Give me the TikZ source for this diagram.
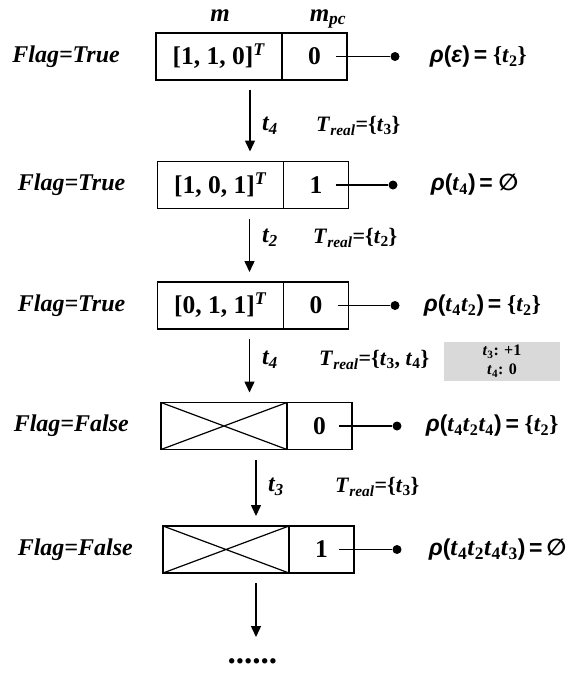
\documentclass[tikz,border=0pt]{standalone}
\usepackage{fontspec}
\setmainfont{Liberation Serif}
\newfontfamily\sansf{Liberation Sans}
\newfontfamily\dejaf{DejaVu Sans}
\usetikzlibrary{arrows.meta,positioning}
\newcommand{\tsb}[1]{\textit{t}\textsubscript{#1}}
\newcommand{\rh}[1]{{\sansf\itshape ρ}{\sansf(}#1{\sansf)\,=}}
\newcommand{\nullset}{{\dejaf ∅}}
\newcommand{\treal}[1]{\textit{T}\textsubscript{\textit{real}}=\{#1\}}
\tikzset{
  cell/.style={draw, line width=1.5pt, minimum height=47pt, outer sep=0pt,
    inner sep=0pt, font=\fontsize{25.5}{28}\selectfont\bfseries},
  mcell/.style={cell, minimum width=126pt},
  pccell/.style={cell, minimum width=65pt},
  cross/.style={line width=1.2pt},
  flag/.style={font=\fontsize{24}{28}\selectfont\bfseries\itshape, inner sep=0pt},
  head/.style={font=\fontsize{25}{28}\selectfont\bfseries\itshape, inner sep=0pt, anchor=base},
  dot/.style={circle, fill, inner sep=0pt, minimum size=9pt},
  link/.style={line width=1.4pt},
  rholbl/.style={font=\fontsize{23}{26}\selectfont\bfseries, inner sep=0pt, anchor=west},
  arr/.style={-{Triangle[length=11pt,width=10pt]}, line width=1.5pt,
    shorten <=10pt, shorten >=10pt},
  tlbl/.style={font=\fontsize{24}{28}\selectfont\bfseries\itshape, inner sep=0pt, anchor=west},
  real/.style={font=\fontsize{22}{26}\selectfont\bfseries, inner sep=0pt, anchor=west},
  note/.style={fill=black!15, minimum width=116pt, minimum height=37pt, align=center,
    font=\fontsize{16}{19}\selectfont\bfseries}
}

\begin{document}
\begin{tikzpicture}[x=1pt,y=-1pt]
  \useasboundingbox (0,0) rectangle (568,673);

  % column heads
  \node[head] (hm) at (220,21) {m};
  \node[head] (hpc) at (328,21) {m\textsubscript{pc}};

  % states
  \node[mcell, anchor=west] (m1) at (156,56.5) {[1, 1, 0]\textsuperscript{\textit{T}}};
  \node[pccell, right=0pt of m1] (pc1) {0};
  \node[mcell, anchor=west] (m2) at (157.5,185) {[1, 0, 1]\textsuperscript{\textit{T}}};
  \node[pccell, right=0pt of m2] (pc2) {1};
  \node[mcell, anchor=west] (m3) at (157.5,305.5) {[0, 1, 1]\textsuperscript{\textit{T}}};
  \node[pccell, right=0pt of m3] (pc3) {0};
  \node[mcell, anchor=west] (m4) at (161,426) {};
  \node[pccell, right=0pt of m4] (pc4) {0};
  \node[mcell, anchor=west] (m5) at (163,549.5) {};
  \node[pccell, right=0pt of m5] (pc5) {1};
  \draw[cross] (m4.north west) -- (m4.south east) (m4.south west) -- (m4.north east);
  \draw[cross] (m5.north west) -- (m5.south east) (m5.south west) -- (m5.north east);

  \node[flag, left=36pt of m1] (f1) {Flag=True};
  \node[flag, left=32pt of m2] (f2) {Flag=True};
  \node[flag, left=32pt of m3] (f3) {Flag=True};
  \node[flag, left=32pt of m4] (f4) {Flag=False};
  \node[flag, left=30pt of m5] (f5) {Flag=False};

  % rho values
  \node[dot] (d1) at (395,56.5) {};
  \node[dot] (d2) at (393,185) {};
  \node[dot] (d3) at (395,305.5) {};
  \node[dot] (d4) at (397,426) {};
  \node[dot] (d5) at (397,549.5) {};
  \draw[link] ([xshift=-11pt]pc1.east) -- (d1);
  \draw[link] ([xshift=-13pt]pc2.east) -- (d2);
  \draw[link] ([xshift=-11pt]pc3.east) -- (d3);
  \draw[link] ([xshift=-13pt]pc4.east) -- (d4);
  \draw[link] ([xshift=-15pt]pc5.east) -- (d5);
  \node[rholbl, right=30pt of d1] (r1) {\rh{{\sansf\itshape ε}} \{\tsb{2}\}};
  \node[rholbl, right=33pt of d2] (r2) {\rh{\tsb{4}} \nullset};
  \node[rholbl, right=24pt of d3] (r3) {\rh{\tsb{4}\tsb{2}} \{\tsb{2}\}};
  \node[rholbl, right=24pt of d4] (r4) {\rh{\tsb{4}\tsb{2}\tsb{4}} \{\tsb{2}\}};
  \node[rholbl, right=27pt of d5] (r5)
    {\rh{{\fontsize{25}{28}\selectfont\tsb{4}\tsb{2}\tsb{4}\tsb{3}}}\,\nullset};

  % firing steps
  \coordinate (a1) at ([xshift=-32pt]m1.south east);
  \coordinate (a2) at ([xshift=-34pt]m2.south east);
  \coordinate (a3) at ([xshift=-34pt]m3.south east);
  \coordinate (a4) at ([xshift=-31pt]m4.south east);
  \coordinate (a5) at ([xshift=-33pt]m5.south east);
  \path (a5) ++(0,64) coordinate (e5);
  \node[font=\fontsize{33}{33}\selectfont\bfseries\itshape, inner sep=0pt] (more) at (253.5,661) {......};
  \draw[arr] (a1) -- (a1 |- m2.north);
  \draw[arr] (a2) -- (a2 |- m3.north);
  \draw[arr] (a3) -- (a3 |- m4.north);
  \draw[arr] (a4) -- (a4 |- m5.north);
  \draw[arr, shorten >=0pt] (a5) -- (e5);

  \node[tlbl] (t1) at (262,126) {\tsb{4}};
  \node[tlbl] (t2) at (262,238) {\tsb{2}};
  \node[tlbl] (t3) at (262,360) {\tsb{4}};
  \node[tlbl] (t4) at (268,487) {\tsb{3}};
  \node[real] (re1) at (316,126) {\treal{\tsb{3}}};
  \node[real] (re2) at (313,238) {\treal{\tsb{2}}};
  \node[real] (re3) at (319,360) {\treal{\tsb{3}, \tsb{4}}};
  \node[real] (re4) at (335,487) {\treal{\tsb{3}}};
  \node[note] (n3) at (502,361.5) {\tsb{3}: +1\\\tsb{4}: 0};
\end{tikzpicture}
\end{document}
